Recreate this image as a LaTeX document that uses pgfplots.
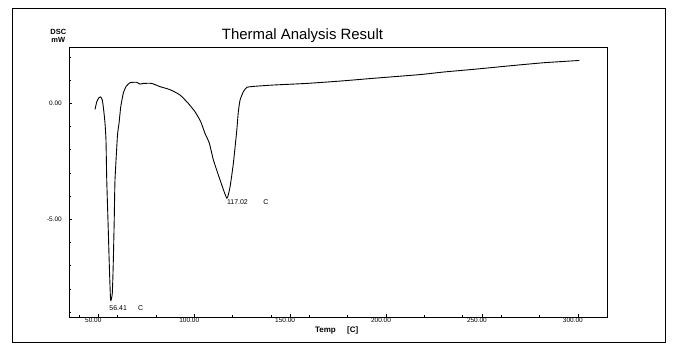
\documentclass[border=0pt]{standalone}
\usepackage{pgfplots}
\pgfplotsset{compat=1.18}
\usepackage{fontspec}
\setmainfont{Liberation Sans}
\begin{document}
\begin{tikzpicture}
\path (0bp,0bp) rectangle (677bp,352bp);
\draw[line width=1bp] (12bp,9bp) rectangle (665bp,343bp);
\node[anchor=base west, inner sep=0pt, font=\fontsize{15}{17}\selectfont] at (221.7bp,312bp) {Thermal Analysis Result};
\node[anchor=base, inner sep=0pt, font=\fontsize{7.5}{8}\selectfont\bfseries] at (58.3bp,317.7bp) {DSC};
\node[anchor=base, inner sep=0pt, font=\fontsize{7.5}{8}\selectfont\bfseries] at (58.3bp,309.7bp) {mW};
\node[anchor=base west, inner sep=0pt, font=\fontsize{8}{9}\selectfont\bfseries] at (315bp,19.3bp) {Temp};
\node[anchor=base west, inner sep=0pt, font=\fontsize{8}{9}\selectfont\bfseries] at (347bp,19.3bp) {[C]};
\begin{axis}[
  at={(69bp,35bp)}, anchor=south west,
  width=538bp, height=270bp, scale only axis,
  xmin=34.72, xmax=315.2, ymin=-9.21, ymax=2.43,
  axis line style={line width=0.9bp},
  tick style={black, line width=0.6bp},
  tick align=inside,
  major tick length=3bp, minor tick length=2bp,
  xtick pos=left, ytick pos=left,
  xtick={50,100,...,300},
  xticklabels={50.00,100.00,150.00,200.00,250.00,300.00},
  minor xtick={40,60,...,300},
  ytick={-5,0}, yticklabels={-5.00,0.00},
  minor ytick={-9,-8,...,2},
  ticklabel style={font=\fontsize{6.5}{7}\selectfont, inner sep=0pt},
  xticklabel style={anchor=north, yshift=-1bp, xshift=-5bp},
  yticklabel style={anchor=east, xshift=-7bp},
  clip=false,
]
\addplot[black, line width=0.9bp, smooth, tension=0.3] coordinates {
(48.3,-0.26) (49.2,0.07) (50.3,0.24) (51.2,0.28) (52.1,0.14) (52.8,-0.29)
(53.5,-0.86) (54.0,-1.58) (54.4,-3.31) (55.2,-5.46) (55.7,-6.88) (56.41,-8.48)
(57.3,-8.18) (57.8,-6.88) (58.3,-5.03) (58.7,-3.31) (60.0,-1.37) (60.8,-0.86)
(61.7,-0.15) (63.0,0.43) (64.4,0.72) (66.5,0.89) (70.0,0.91) (71.7,0.83)
(73.5,0.86) (77.8,0.86) (82.2,0.72) (87.4,0.59) (92.6,0.36) (96.9,0.0)
(100.4,-0.36) (103.4,-0.79) (105.6,-1.29) (107.9,-1.72) (110.0,-2.44)
(113.5,-3.31) (117.02,-4.09) (118.7,-3.59) (120.4,-2.59) (122.2,-1.15)
(123.0,-0.36) (123.9,0.14) (125.6,0.50) (127.4,0.69) (130.7,0.73)
(141.2,0.79) (158.7,0.86) (176.0,0.96) (193.4,1.08) (217.7,1.24) (229.9,1.35)
(247.3,1.48) (264.7,1.62) (282.0,1.75) (300.8,1.85)
};
\node[anchor=base west, inner sep=0pt, font=\fontsize{7}{8}\selectfont] at (axis cs:55.7,-8.94) {56.41};
\node[anchor=base west, inner sep=0pt, font=\fontsize{7}{8}\selectfont] at (axis cs:70.7,-8.94) {C};
\node[anchor=base west, inner sep=0pt, font=\fontsize{7}{8}\selectfont] at (axis cs:117.0,-4.38) {117.02};
\node[anchor=base west, inner sep=0pt, font=\fontsize{7}{8}\selectfont] at (axis cs:135.9,-4.38) {C};
\end{axis}
\end{tikzpicture}
\end{document}
